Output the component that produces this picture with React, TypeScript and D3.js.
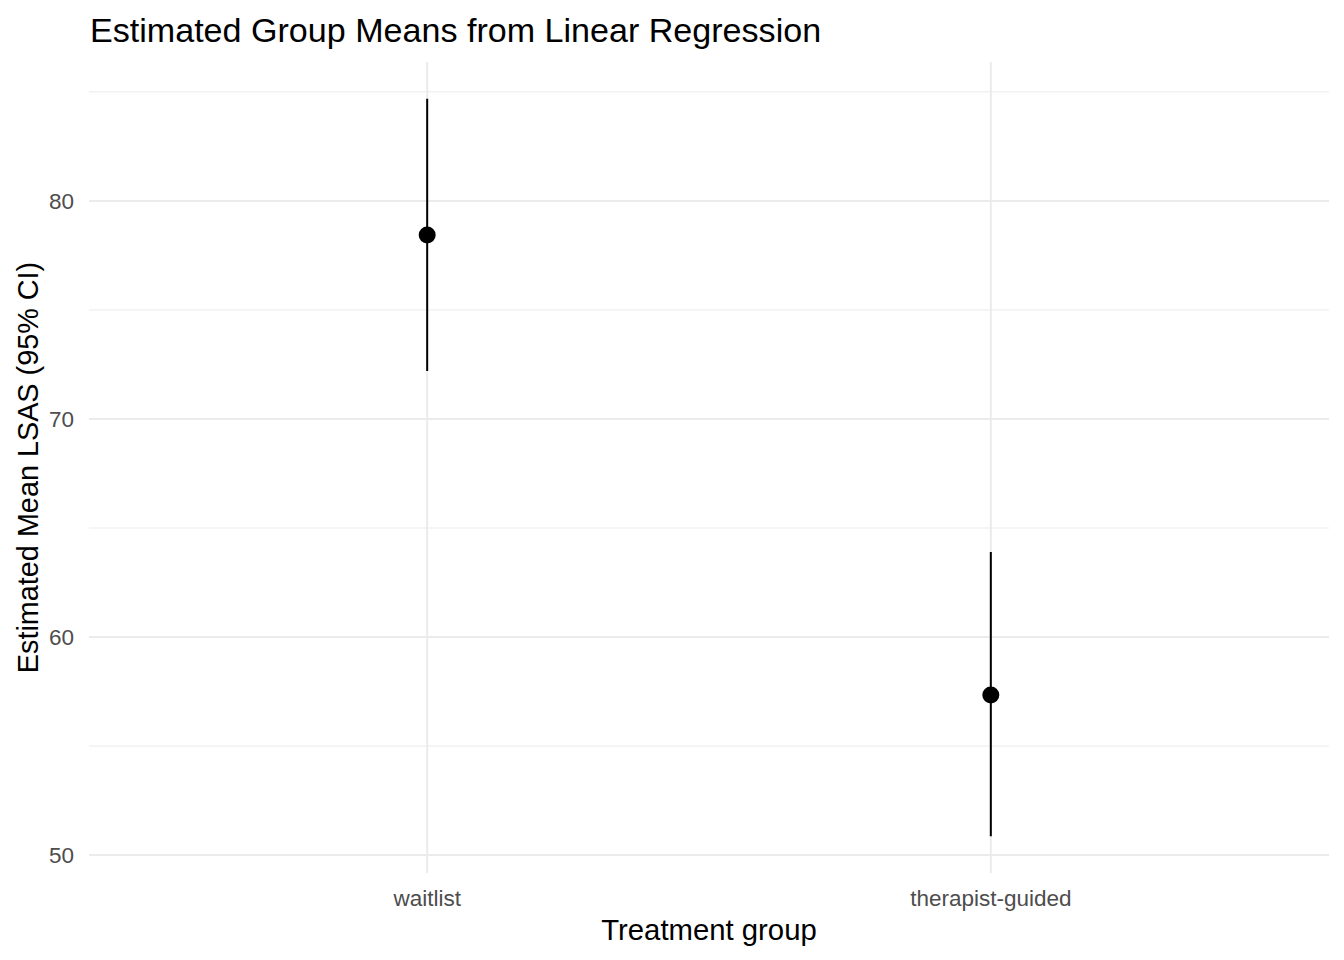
import { useEffect, useRef } from 'react';
import * as d3 from 'd3';

const groups = ['waitlist', 'therapist-guided'];
const means = [78.44, 57.34];
const lower = [72.2, 50.87];
const upper = [84.68, 63.9];
const yTicks = [50, 60, 70, 80];
const yMinor = [55, 65, 75, 85];

const W = 1344;
const H = 960;

export default function App() {
  const svgRef = useRef<SVGSVGElement>(null);

  useEffect(() => {
    if (!svgRef.current) return;
    const svg = d3.select(svgRef.current);
    svg.selectAll('*').remove();

    const margin = { top: 62, right: 15, bottom: 87, left: 89 };
    const x0 = margin.left;
    const x1 = W - margin.right;
    const y0 = margin.top;
    const y1 = H - margin.bottom;

    const lo = d3.min(lower)!;
    const hi = d3.max(upper)!;
    const pad = (hi - lo) * 0.05;

    const y = d3.scaleLinear().domain([lo - pad, hi + pad]).range([y1, y0]);
    const x = d3.scaleLinear().domain([0.4, groups.length + 0.6]).range([x0, x1]);

    const font = 'Liberation Sans, Arial, sans-serif';

    // minor grid
    svg.append('g').selectAll('line').data(yMinor).join('line')
      .attr('x1', x0).attr('x2', x1)
      .attr('y1', (d) => y(d)).attr('y2', (d) => y(d))
      .attr('stroke', '#EBEBEB').attr('stroke-width', 1);

    // major grid
    svg.append('g').selectAll('line').data(yTicks).join('line')
      .attr('x1', x0).attr('x2', x1)
      .attr('y1', (d) => y(d)).attr('y2', (d) => y(d))
      .attr('stroke', '#EBEBEB').attr('stroke-width', 2);

    svg.append('g').selectAll('line').data(groups).join('line')
      .attr('x1', (_, i) => x(i + 1)).attr('x2', (_, i) => x(i + 1))
      .attr('y1', y0).attr('y2', y1)
      .attr('stroke', '#EBEBEB').attr('stroke-width', 2);

    // error bars
    svg.append('g').selectAll('line').data(groups).join('line')
      .attr('x1', (_, i) => x(i + 1)).attr('x2', (_, i) => x(i + 1))
      .attr('y1', (_, i) => y(lower[i])).attr('y2', (_, i) => y(upper[i]))
      .attr('stroke', '#000').attr('stroke-width', 2);

    svg.append('g').selectAll('circle').data(groups).join('circle')
      .attr('cx', (_, i) => x(i + 1))
      .attr('cy', (_, i) => y(means[i]))
      .attr('r', 8.5)
      .attr('fill', '#000');

    // y tick labels
    svg.append('g').selectAll('text').data(yTicks).join('text')
      .attr('x', 74).attr('y', (d) => y(d))
      .attr('dy', '0.35em')
      .attr('text-anchor', 'end')
      .attr('font-family', font).attr('font-size', 22.5)
      .attr('fill', '#4D4D4D')
      .text((d) => d);

    // x tick labels
    svg.append('g').selectAll('text').data(groups).join('text')
      .attr('x', (_, i) => x(i + 1)).attr('y', 906)
      .attr('text-anchor', 'middle')
      .attr('font-family', font).attr('font-size', 22.5)
      .attr('fill', '#4D4D4D')
      .text((d) => d);

    svg.append('text')
      .attr('x', (x0 + x1) / 2).attr('y', 940)
      .attr('text-anchor', 'middle')
      .attr('font-family', font).attr('font-size', 29.3)
      .attr('fill', '#000')
      .text('Treatment group');

    svg.append('text')
      .attr('transform', `translate(38,${(y0 + y1) / 2}) rotate(-90)`)
      .attr('text-anchor', 'middle')
      .attr('font-family', font).attr('font-size', 28.8)
      .attr('fill', '#000')
      .text('Estimated Mean LSAS (95% CI)');

    svg.append('text')
      .attr('x', 90).attr('y', 42)
      .attr('font-family', font).attr('font-size', 34.1)
      .attr('fill', '#000')
      .text('Estimated Group Means from Linear Regression');
  }, []);

  return (
    <svg
      ref={svgRef}
      width={W}
      height={H}
      style={{ display: 'block', position: 'absolute', left: 0, top: 0, background: '#fff' }}
    />
  );
}
